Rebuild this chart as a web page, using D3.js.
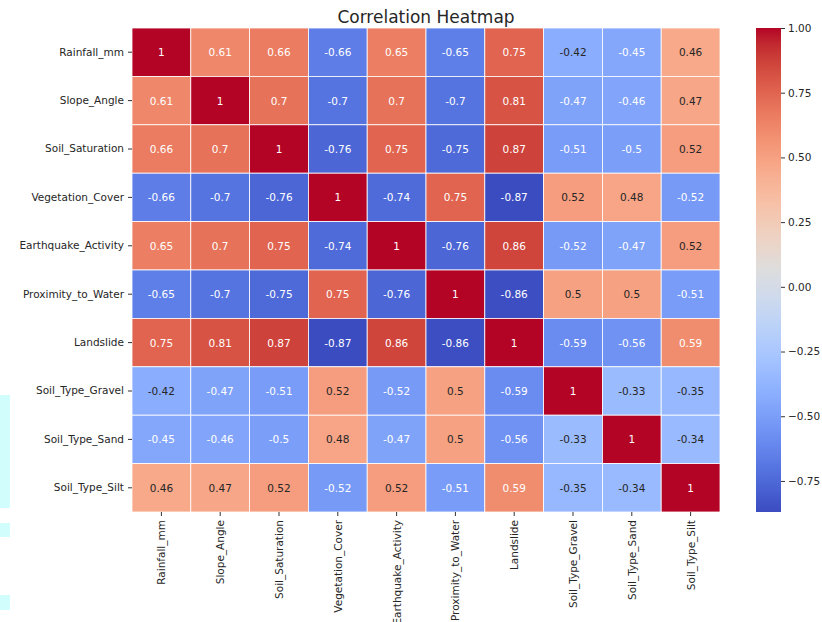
<!DOCTYPE html>
<html>
<head>
<meta charset="utf-8">
<script src="https://cdn.jsdelivr.net/npm/d3@7"></script>
<style>
  html, body { margin: 0; padding: 0; background: #ffffff; }
  svg { display: block; }
  text { font-family: "DejaVu Sans", sans-serif; }
</style>
</head>
<body>
<svg id="chart" width="822" height="622"></svg>
<script>
// Variable names (rows top to bottom, columns left to right)
const variables = [
  "Rainfall_mm", "Slope_Angle", "Soil_Saturation", "Vegetation_Cover",
  "Earthquake_Activity", "Proximity_to_Water", "Landslide",
  "Soil_Type_Gravel", "Soil_Type_Sand", "Soil_Type_Silt"
];

// Pairwise correlation coefficients, one row per variable
const rainfallRow      = [1, 0.61, 0.66, -0.66, 0.65, -0.65, 0.75, -0.42, -0.45, 0.46];
const slopeRow         = [0.61, 1, 0.7, -0.7, 0.7, -0.7, 0.81, -0.47, -0.46, 0.47];
const saturationRow    = [0.66, 0.7, 1, -0.76, 0.75, -0.75, 0.87, -0.51, -0.5, 0.52];
const vegetationRow    = [-0.66, -0.7, -0.76, 1, -0.74, 0.75, -0.87, 0.52, 0.48, -0.52];
const earthquakeRow    = [0.65, 0.7, 0.75, -0.74, 1, -0.76, 0.86, -0.52, -0.47, 0.52];
const proximityRow     = [-0.65, -0.7, -0.75, 0.75, -0.76, 1, -0.86, 0.5, 0.5, -0.51];
const landslideRow     = [0.75, 0.81, 0.87, -0.87, 0.86, -0.86, 1, -0.59, -0.56, 0.59];
const gravelRow        = [-0.42, -0.47, -0.51, 0.52, -0.52, 0.5, -0.59, 1, -0.33, -0.35];
const sandRow          = [-0.45, -0.46, -0.5, 0.48, -0.47, 0.5, -0.56, -0.33, 1, -0.34];
const siltRow          = [0.46, 0.47, 0.52, -0.52, 0.52, -0.51, 0.59, -0.35, -0.34, 1];

const correlationRows = [rainfallRow, slopeRow, saturationRow, vegetationRow, earthquakeRow,
  proximityRow, landslideRow, gravelRow, sandRow, siltRow];

// Colour bar tick values
const colorbarTicks = [1.0, 0.75, 0.5, 0.25, 0.0, -0.25, -0.5, -0.75];

const chartTitle = "Correlation Heatmap";

// Diverging "coolwarm" palette, sampled at 33 evenly spaced stops
const coolwarmStops = [
  [59,76,192],[68,90,204],[77,104,215],[87,117,225],[98,130,234],[108,142,241],
  [119,154,247],[130,165,251],[141,176,254],[152,185,255],[163,194,255],[174,201,253],
  [184,208,249],[194,213,244],[204,217,238],[213,219,230],[221,221,221],[229,216,209],
  [236,211,197],[241,204,184],[245,196,172],[247,187,160],[247,177,148],[247,166,135],
  [244,154,123],[241,141,111],[236,127,99],[229,112,88],[222,96,77],[213,80,66],
  [203,62,56],[192,40,47],[180,4,38]
].map(c => d3.rgb(c[0], c[1], c[2]));
const coolwarm = d3.scaleLinear()
  .domain(coolwarmStops.map((_, i) => i / (coolwarmStops.length - 1)))
  .range(coolwarmStops)
  .interpolate(d3.interpolateRgb)
  .clamp(true);

const cells = [];
correlationRows.forEach((row, i) => row.forEach((v, j) => cells.push({ r: variables[i], c: variables[j], v })));

const allValues = cells.map(d => d.v);
const vMin = d3.min(allValues), vMax = d3.max(allValues);
const norm = d3.scaleLinear().domain([vMin, vMax]).range([0, 1]);
const colorOf = v => coolwarm(norm(v));

// Annotation colour follows the luminance of the cell behind it
function luminance(c) {
  const lin = x => { x /= 255; return x <= 0.03928 ? x / 12.92 : Math.pow((x + 0.055) / 1.055, 2.4); };
  const rgb = d3.rgb(c);
  return 0.2126 * lin(rgb.r) + 0.7152 * lin(rgb.g) + 0.0722 * lin(rgb.b);
}

const svg = d3.select("#chart");

// Layout
const plot = { left: 132, top: 28, right: 720, bottom: 512 };
const cbar = { left: 756, right: 781, top: 28, bottom: 512 };

// Faint cyan bands along the left edge
const edgeBands = [[395, 508], [523, 537], [595, 610]];
svg.selectAll("rect.edge").data(edgeBands).join("rect")
  .attr("class", "edge")
  .attr("x", 0).attr("width", 10)
  .attr("y", d => d[0]).attr("height", d => d[1] - d[0])
  .attr("fill", "#d2fdfd");

const x = d3.scaleBand().domain(variables).range([plot.left, plot.right]);
const y = d3.scaleBand().domain(variables).range([plot.top, plot.bottom]);

const g = svg.append("g");

g.selectAll("rect.cell").data(cells).join("rect")
  .attr("class", "cell")
  .attr("x", d => x(d.c))
  .attr("y", d => y(d.r))
  .attr("width", x.bandwidth())
  .attr("height", y.bandwidth())
  .attr("fill", d => colorOf(d.v))
  .attr("stroke", "#ffffff")
  .attr("stroke-width", 0.8);

const fmt = v => String(+v.toFixed(2));

g.selectAll("text.annot").data(cells).join("text")
  .attr("class", "annot")
  .attr("x", d => x(d.c) + x.bandwidth() / 2)
  .attr("y", d => y(d.r) + y.bandwidth() / 2)
  .attr("text-anchor", "middle")
  .attr("dominant-baseline", "central")
  .attr("font-size", 10.5)
  .attr("fill", d => luminance(colorOf(d.v)) > 0.408 ? "#262626" : "#ffffff")
  .text(d => fmt(d.v));

// Axes
const xAxis = d3.axisBottom(x).tickSize(4).tickPadding(3);
const yAxis = d3.axisLeft(y).tickSize(4).tickPadding(4);

const gx = svg.append("g").attr("transform", `translate(0,${plot.bottom})`).call(xAxis);
gx.select(".domain").remove();
gx.selectAll(".tick line").attr("stroke", "#333");
gx.selectAll(".tick text")
  .attr("font-size", 10.5)
  .attr("font-family", "DejaVu Sans, sans-serif")
  .attr("fill", "#262626")
  .attr("transform", "rotate(-90)")
  .attr("text-anchor", "end")
  .attr("dominant-baseline", "central")
  .attr("x", -8).attr("y", 0).attr("dy", null);

const gy = svg.append("g").attr("transform", `translate(${plot.left},0)`).call(yAxis);
gy.select(".domain").remove();
gy.selectAll(".tick line").attr("stroke", "#333");
gy.selectAll(".tick text")
  .attr("font-size", 10.5)
  .attr("font-family", "DejaVu Sans, sans-serif")
  .attr("fill", "#262626");

// Colour bar
const cy = d3.scaleLinear().domain([vMin, vMax]).range([cbar.bottom, cbar.top]);
const defs = svg.append("defs");
const grad = defs.append("linearGradient").attr("id", "cbarGrad")
  .attr("x1", 0).attr("y1", 1).attr("x2", 0).attr("y2", 0);
d3.range(0, 1.0001, 1 / 64).forEach(t => {
  grad.append("stop").attr("offset", t).attr("stop-color", coolwarm(t));
});
svg.append("rect")
  .attr("x", cbar.left).attr("y", cbar.top)
  .attr("width", cbar.right - cbar.left).attr("height", cbar.bottom - cbar.top)
  .attr("fill", "url(#cbarGrad)");

const cAxis = d3.axisRight(cy).tickValues(colorbarTicks).tickSize(4).tickPadding(3)
  .tickFormat(d => d3.format(".2f")(d).replace("-", "\u2212"));
const gc = svg.append("g").attr("transform", `translate(${cbar.right},0)`).call(cAxis);
gc.select(".domain").remove();
gc.selectAll(".tick line").attr("stroke", "#333");
gc.selectAll(".tick text")
  .attr("font-size", 10.5)
  .attr("font-family", "DejaVu Sans, sans-serif")
  .attr("fill", "#262626");

// Title
svg.append("text")
  .attr("x", (plot.left + plot.right) / 2)
  .attr("y", 23)
  .attr("text-anchor", "middle")
  .attr("font-size", 17)
  .attr("fill", "#262626")
  .text(chartTitle);
</script>
</body>
</html>
